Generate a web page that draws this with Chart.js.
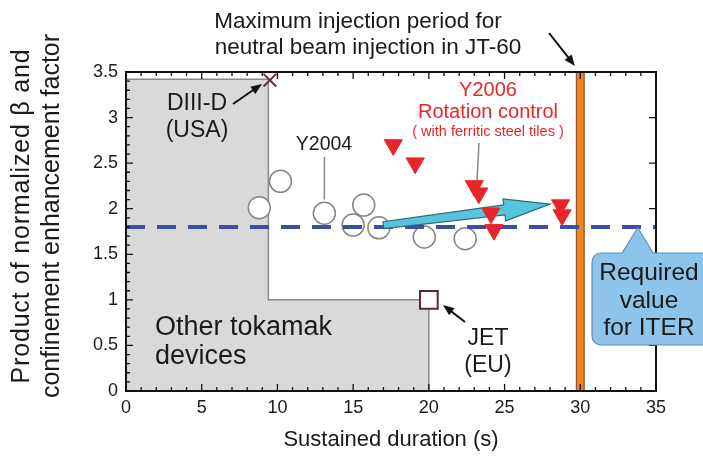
<!DOCTYPE html>
<html>
<head>
<meta charset="utf-8">
<script src="https://cdn.jsdelivr.net/npm/chart.js@4.4.1/dist/chart.umd.min.js"></script>
<style>
  html, body { margin: 0; padding: 0; background: #fff; }
  #wrap { width: 703px; height: 457px; }
</style>
</head>
<body>
<div id="wrap"><canvas id="myChart" width="703" height="457"></canvas></div>
<script>
/* data */
const y2004 = [
  [8.8, 2.01], [10.2, 2.3], [13.1, 1.95], [15.0, 1.82],
  [15.7, 2.04], [16.7, 1.79], [19.7, 1.69], [22.4, 1.67]
];
const y2006 = [
  [17.65, 2.70], [19.1, 2.50], [23.0, 2.25], [23.3, 2.17],
  [24.1, 1.95], [24.3, 1.77], [28.7, 2.04], [28.8, 1.93]
];
const diiid = [[9.5, 3.41]];
const jet = [[20, 1]];
const otherTokamak = [[0, 3.42], [9.4, 3.42], [9.4, 1], [20, 1], [20, 0]];
const iterRequired = 1.8;
const nbiMaxPeriod = 30;
const trendStart = [17.0, 1.82];
const trendEnd = [28.0, 2.05];
const xTicks = [0, 5, 10, 15, 20, 25, 30, 35];
const yTicks = [0, 0.5, 1, 1.5, 2, 2.5, 3, 3.5];

const pts = a => a.map(p => ({x: p[0], y: p[1]}));
const FONT = 'Liberation Sans, Arial, sans-serif';
const RED = '#e8262a';
const ARROW_AFTER = 3; // 화살표는 점선 다음, 삼각형 전에

function drawTrendArrow(chart) {
  const {ctx} = chart;
  const x = chart.scales.x, y = chart.scales.y;
  const p0 = [x.getPixelForValue(trendStart[0]), y.getPixelForValue(trendStart[1])];
  const p1 = [x.getPixelForValue(trendEnd[0]), y.getPixelForValue(trendEnd[1])];
  const dx = p1[0] - p0[0], dy = p1[1] - p0[1];
  const len = Math.hypot(dx, dy);
  const ux = dx / len, uy = dy / len, nx = -uy, ny = ux;
  const hl = 46, hw = 11, tw = 3.5, bw = 5;
  const bx = p1[0] - ux * hl, by = p1[1] - uy * hl;
  ctx.save();
  ctx.beginPath();
  ctx.moveTo(p0[0] + nx * tw, p0[1] + ny * tw);
  ctx.lineTo(bx + nx * bw, by + ny * bw);
  ctx.lineTo(bx + nx * hw, by + ny * hw);
  ctx.lineTo(p1[0], p1[1]);
  ctx.lineTo(bx - nx * hw, by - ny * hw);
  ctx.lineTo(bx - nx * bw, by - ny * bw);
  ctx.lineTo(p0[0] - nx * tw, p0[1] - ny * tw);
  ctx.closePath();
  ctx.fillStyle = '#58c3dc';
  ctx.fill();
  ctx.strokeStyle = '#2f6b78';
  ctx.lineWidth = 1.2;
  ctx.stroke();
  ctx.restore();
}

/* 틱, 주석 등 그리기 */
const decor = {
  id: 'decor',
  beforeDatasetsDraw(chart) {
    const {ctx} = chart;
    const x = chart.scales.x, y = chart.scales.y;
    // 회색 연결선 (Y2004 / Y2006 라벨)
    ctx.save();
    ctx.strokeStyle = '#8a8a8a';
    ctx.lineWidth = 1.5;
    ctx.beginPath();
    ctx.moveTo(x.getPixelForValue(13.1), 157);
    ctx.lineTo(x.getPixelForValue(13.1), y.getPixelForValue(2.1));
    ctx.moveTo(479, 143);
    ctx.lineTo(477, 180);
    ctx.stroke();
    ctx.restore();
  },
  afterDatasetDraw(chart, args) {
    if (args.index === ARROW_AFTER) drawTrendArrow(chart);
  },
  afterDatasetsDraw(chart) {
    const {ctx, chartArea: a} = chart;
    const x = chart.scales.x, y = chart.scales.y;

    // 축 테두리와 안쪽 틱
    ctx.save();
    ctx.strokeStyle = '#111';
    ctx.lineWidth = 2;
    ctx.strokeRect(a.left, a.top, a.right - a.left, a.bottom - a.top);
    ctx.lineWidth = 1.3;
    ctx.beginPath();
    for (let v = 0; v <= 35; v++) {
      const px = x.getPixelForValue(v);
      const L = v % 5 === 0 ? 7 : 4;
      ctx.moveTo(px, a.bottom); ctx.lineTo(px, a.bottom - L);
      ctx.moveTo(px, a.top); ctx.lineTo(px, a.top + L);
    }
    for (let i = 0; i <= 35; i++) {
      const py = y.getPixelForValue(i / 10);
      const L = i % 5 === 0 ? 7 : 4;
      ctx.moveTo(a.left, py); ctx.lineTo(a.left + L, py);
      if (i % 5 === 0) { ctx.moveTo(a.right, py); ctx.lineTo(a.right - 7, py); }
    }
    ctx.stroke();
    ctx.restore();

    // ITER 말풍선
    const tipX = x.getPixelForValue(33.8), tipY = y.getPixelForValue(iterRequired) + 1;
    const bl = 592, br = 716, bt = 253, bb = 345, r = 9;
    ctx.save();
    ctx.beginPath();
    ctx.moveTo(bl + r, bt);
    ctx.lineTo(622, bt);
    ctx.lineTo(tipX, tipY);
    ctx.lineTo(653, bt);
    ctx.lineTo(br - r, bt);
    ctx.arcTo(br, bt, br, bt + r, r);
    ctx.lineTo(br, bb - r);
    ctx.arcTo(br, bb, br - r, bb, r);
    ctx.lineTo(bl + r, bb);
    ctx.arcTo(bl, bb, bl, bb - r, r);
    ctx.lineTo(bl, bt + r);
    ctx.arcTo(bl, bt, bl + r, bt, r);
    ctx.closePath();
    ctx.fillStyle = '#8fc4ea';
    ctx.fill();
    ctx.strokeStyle = '#5b8db5';
    ctx.lineWidth = 1.2;
    ctx.stroke();
    ctx.fillStyle = '#1a1a1a';
    ctx.font = '24.5px ' + FONT;
    ctx.textAlign = 'center';
    ctx.textBaseline = 'middle';
    ctx.fillText('Required', 649, 273);
    ctx.fillText('value', 649, 301);
    ctx.fillText('for ITER', 649, 328);
    ctx.restore();

    // 텍스트 주석
    ctx.save();
    ctx.textBaseline = 'middle';
    ctx.textAlign = 'center';
    ctx.fillStyle = '#1a1a1a';
    ctx.font = '22.5px ' + FONT;
    ctx.fillText('Maximum injection period for', 358, 22);
    ctx.fillText('neutral beam injection in JT-60', 368, 48);
    ctx.font = '23px ' + FONT;
    ctx.fillText('DIII-D', 197, 104);
    ctx.fillText('(USA)', 197, 131);
    ctx.fillText('JET', 488, 339);
    ctx.fillText('(EU)', 488, 366);
    ctx.font = '19.5px ' + FONT;
    ctx.fillText('Y2004', 324, 145);
    ctx.textAlign = 'left';
    ctx.font = '27px ' + FONT;
    ctx.fillText('Other tokamak', 155, 328);
    ctx.fillText('devices', 155, 357);
    ctx.textAlign = 'center';
    ctx.fillStyle = RED;
    ctx.font = '20px ' + FONT;
    ctx.fillText('Y2006', 488, 90);
    ctx.fillText('Rotation control', 488, 112);
    ctx.font = '14.5px ' + FONT;
    ctx.fillText('( with ferritic steel tiles )', 488, 132);
    ctx.restore();

    // 검은 화살표
    const arrow = (x0, y0, x1, y1) => {
      const ang = Math.atan2(y1 - y0, x1 - x0);
      ctx.save();
      ctx.strokeStyle = '#111';
      ctx.fillStyle = '#111';
      ctx.lineWidth = 2;
      ctx.beginPath();
      ctx.moveTo(x0, y0);
      ctx.lineTo(x1 - Math.cos(ang) * 8, y1 - Math.sin(ang) * 8);
      ctx.stroke();
      ctx.beginPath();
      ctx.moveTo(x1, y1);
      ctx.lineTo(x1 - Math.cos(ang - 0.38) * 12, y1 - Math.sin(ang - 0.38) * 12);
      ctx.lineTo(x1 - Math.cos(ang + 0.38) * 12, y1 - Math.sin(ang + 0.38) * 12);
      ctx.closePath();
      ctx.fill();
      ctx.restore();
    };
    arrow(549, 33, 575, 66);
    arrow(233, 104, 262, 84);
    arrow(465, 322, 443, 305);

    // y축 제목
    ctx.save();
    ctx.translate(0, 216);
    ctx.rotate(-Math.PI / 2);
    ctx.textAlign = 'center';
    ctx.textBaseline = 'middle';
    ctx.fillStyle = '#1a1a1a';
    ctx.font = '25px ' + FONT;
    ctx.letterSpacing = '0.8px';
    ctx.fillText('Product of normalized \u03b2 and', 0, 22);
    ctx.letterSpacing = '0px';
    ctx.fillText('confinement enhancement factor', 0, 52);
    ctx.restore();
  }
};

const ctx = document.getElementById('myChart');
var config = {
  type: 'scatter',
  data: {
    datasets: [
      {
        label: 'Other tokamak devices',
        data: pts(otherTokamak),
        order: 9,
        showLine: true,
        fill: 'origin',
        backgroundColor: '#d9d9d9',
        borderColor: '#8a8a8a',
        borderWidth: 1.5,
        pointRadius: 0
      },
      {
        label: 'NBI max edge',
        data: [{x: nbiMaxPeriod, y: 0}, {x: nbiMaxPeriod, y: 3.5}],
        order: 8,
        showLine: true,
        borderColor: '#9a5420',
        borderWidth: 9,
        pointRadius: 0
      },
      {
        label: 'NBI max',
        data: [{x: nbiMaxPeriod, y: 0}, {x: nbiMaxPeriod, y: 3.5}],
        order: 7,
        showLine: true,
        borderColor: '#ee8424',
        borderWidth: 6.5,
        pointRadius: 0
      },
      {
        label: 'ITER',
        data: [{x: 0, y: iterRequired}, {x: 35, y: iterRequired}],
        order: 5,
        showLine: true,
        borderColor: '#3e4ea6',
        borderWidth: 4,
        borderDash: [19, 12],
        pointRadius: 0
      },
      {
        label: 'Y2004',
        data: pts(y2004),
        order: 6,
        pointStyle: 'circle',
        pointRadius: 11,
        backgroundColor: '#fff',
        borderColor: '#858585',
        borderWidth: 1.5
      },
      {
        label: 'Y2006',
        data: pts(y2006),
        order: 4,
        pointStyle: 'triangle',
        rotation: 180,
        pointRadius: 10.5,
        backgroundColor: RED,
        borderColor: RED,
        borderWidth: 1
      },
      {
        label: 'DIII-D',
        data: pts(diiid),
        order: 3,
        pointStyle: 'crossRot',
        pointRadius: 9,
        borderColor: '#6a2b2b',
        borderWidth: 2
      },
      {
        label: 'JET',
        data: pts(jet),
        order: 2,
        pointStyle: 'rect',
        pointRadius: 12.5,
        backgroundColor: '#fff',
        borderColor: '#5a2a2a',
        borderWidth: 2
      }
    ]
  },
  plugins: [decor],
  options: {
    responsive: false,
    animation: false,
    layout: { padding: { top: 72, right: 47, left: 0, bottom: 0 } },
    plugins: { legend: { display: false }, tooltip: { enabled: false } },
    scales: {
      x: {
        type: 'linear',
        min: 0, max: 35,
        afterFit: s => { s.height = 66; },
        afterBuildTicks: s => { s.ticks = xTicks.map(v => ({value: v})); },
        grid: { display: false, drawTicks: false },
        border: { display: false },
        ticks: { padding: 6, color: '#1a1a1a', font: { size: 18, family: FONT } },
        title: {
          display: true,
          text: 'Sustained duration (s)',
          color: '#1a1a1a',
          font: { size: 22, family: FONT },
          padding: { top: 0, bottom: 4 }
        }
      },
      y: {
        type: 'linear',
        min: 0, max: 3.5,
        afterFit: s => { s.width = 126; },
        afterBuildTicks: s => { s.ticks = yTicks.map(v => ({value: v})); },
        grid: { display: false, drawTicks: false },
        border: { display: false },
        ticks: {
          padding: 8, color: '#1a1a1a',
          font: { size: 18, family: FONT },
          callback: v => String(v)
        }
      }
    }
  }
};

var myChart = new Chart(ctx, config);
</script>
</body>
</html>
